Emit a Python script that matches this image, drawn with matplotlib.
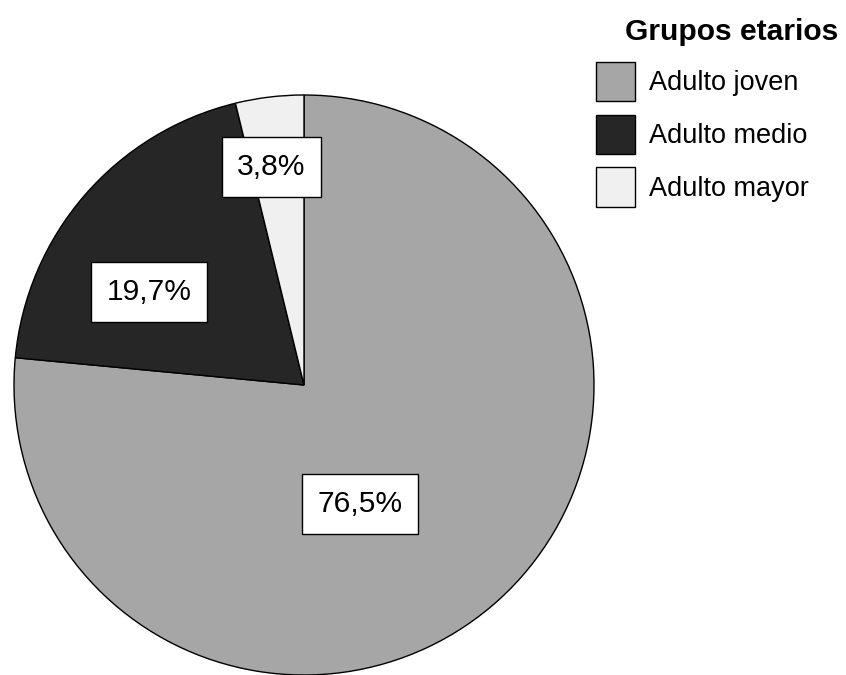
import matplotlib
matplotlib.use("Agg")
import matplotlib.pyplot as plt

plt.rcParams["font.family"] = ["Liberation Sans", "DejaVu Sans"]

# --------------------------------------------------
# Data
# --------------------------------------------------

grupos = ["Adulto joven", "Adulto medio", "Adulto mayor"]
porcentajes = [76.5, 19.7, 3.8]
colores = ["#a6a6a6", "#262626", "#f0f0f0"]

# label anchor points in pie units (radius = 1)
label_x = [0.193, -0.534, -0.112]
label_y = [-0.410, 0.321, 0.752]

# --------------------------------------------------
# Figure
# --------------------------------------------------

W, H = 846, 675
fig = plt.figure(figsize=(W / 100, H / 100), dpi=100)

cx, cy, r = 304, 385, 290
ax = fig.add_axes([(cx - r) / W, (H - cy - r) / H, 2 * r / W, 2 * r / H])

wedges, _ = ax.pie(
    porcentajes,
    colors=colores,
    startangle=90,
    counterclock=False,
    radius=1,
    wedgeprops=dict(edgecolor="black", linewidth=1.0),
)
ax.set_xlim(-1, 1)
ax.set_ylim(-1, 1)
ax.set_aspect("equal")
ax.axis("off")

for val, x, y in zip(porcentajes, label_x, label_y):
    ax.text(
        x, y, f"{val:.1f}%".replace(".", ","),
        ha="center", va="center", fontsize=21.6,
        bbox=dict(boxstyle="square,pad=0.52", facecolor="white",
                  edgecolor="black", linewidth=1.0),
    )

# --------------------------------------------------
# Legend
# --------------------------------------------------

fig.text(838 / W, 1 - 32 / H, "Grupos etarios", ha="right", va="center",
         fontsize=21.6, fontweight="bold")

fig.legend(
    wedges, grupos,
    loc="upper left",
    bbox_to_anchor=(596 / W, 1 - 62 / H),
    frameon=False,
    fontsize=19.5,
    handlelength=1.44,
    handleheight=1.85,
    handletextpad=0.5,
    labelspacing=0.5,
    borderaxespad=0,
    borderpad=0,
)

fig.savefig("out.png", dpi=100)
plt.close(fig)
